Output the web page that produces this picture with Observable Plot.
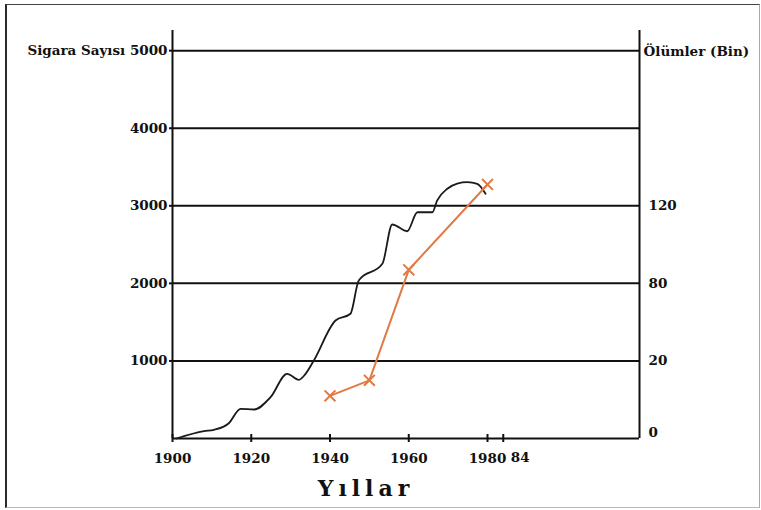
<!DOCTYPE html>
<html>
<head>
<meta charset="utf-8">
<script src="https://cdn.jsdelivr.net/npm/d3@7"></script>
<script src="https://cdn.jsdelivr.net/npm/@observablehq/plot@0.6"></script>
<style>
  html, body { margin: 0; padding: 0; background: #fff; }
  #wrap { position: relative; width: 761px; height: 510px; overflow: hidden; }
  #wrap svg { position: absolute; left: 0; top: 0; }
  #border { position: absolute; left: 5px; top: 4px; width: 752px; height: 502px;
            border-left: 2px solid #2a2a2a; border-top: 1.5px solid #444;
            border-right: 1.5px solid #aaa; border-bottom: 1.5px solid #bbb; pointer-events: none; }
</style>
</head>
<body>
<div id="wrap"><div id="border"></div></div>
<script>
// ---- data ----
const cigYears  = [1901, 1908, 1910.5, 1914.3, 1917.3, 1920.7, 1924.9, 1929.1, 1932.1, 1933.8, 1935.9, 1941.4, 1945.2, 1947.3, 1953.3, 1955.8, 1959.6, 1962.2, 1966.0, 1967.2, 1969.8, 1972.3, 1974.9, 1977.4, 1979.5];
const cigValues = [0,    94,   112,    197,    383,    374,    532,    834,    757,    834,    1006,   1521,   1608,   2037,   2252,   2759,   2672,   2917,   2917,   3068,   3219,   3287,   3304,   3283,   3155];

const deathYears  = [1940, 1950, 1960, 1980];
const deathValues = [11, 15, 87, 131];

const xDomain = [1900, 2018.6];
const xTicks = [1900, 1920, 1940, 1960, 1980];
const xTickLast = [1984];
const yDomain = [0, 5260];
const leftTicks = [1000, 2000, 3000, 4000, 5000];
const leftLevels  = [0, 1000, 2000, 3000];   // left-axis levels where the right ticks sit
const rightTicks  = [0, 20, 80, 120];        // right axis (Ölümler, Bin)

// right-axis (non-linear, as drawn) → left-axis units
const rightToLeft = d3.scaleLinear(rightTicks, leftLevels);

const cig = cigYears.map((y, i) => ({year: y, value: cigValues[i]}));
const deaths = deathYears.map((y, i) => ({year: y, value: deathValues[i]}));

const W = 761, H = 510;
const ink = "#111";
const orange = "#e07a44";

const p1 = Plot.plot({
  width: W, height: H,
  marginTop: 30, marginBottom: 72, marginLeft: 172, marginRight: 122,
  style: {fontFamily: "'DejaVu Serif', serif", fontWeight: "bold", fontSize: "13.5px", color: ink, background: "transparent"},
  x: {domain: xDomain},
  y: {domain: yDomain},
  marks: [
    Plot.ruleY(leftTicks, {stroke: ink, strokeWidth: 2}),
    Plot.ruleX(xDomain, {stroke: ink, strokeWidth: 2}),
    Plot.ruleY([0], {stroke: ink, strokeWidth: 2}),
    Plot.axisY(leftTicks, {tickSize: 3, tickPadding: 2, stroke: ink, strokeWidth: 2, label: null,
      tickFormat: d => d === 5000 ? "Sigara Sayısı 5000" : String(d)}),
    Plot.axisY(leftLevels.slice(1), {anchor: "right", tickSize: 0, tickPadding: 9, label: null,
      tickFormat: d => String(rightTicks[leftLevels.indexOf(d)])}),
    Plot.axisY(leftLevels.slice(0, 1), {anchor: "right", tickSize: 0, tickPadding: 9, dy: -6, label: null,
      tickFormat: d => String(rightTicks[leftLevels.indexOf(d)])}),
    Plot.axisX(xTicks, {tickSize: 4, tickPadding: 11, stroke: ink, strokeWidth: 2, label: null,
      tickFormat: d => String(d)}),
    Plot.axisX(xTickLast, {tickSize: 4, tickPadding: 11, stroke: ink, strokeWidth: 2, label: null, dx: 0,
      tickFormat: () => ""}),
    Plot.axisX(xTickLast, {tickSize: 0, tickPadding: 14, label: null, dx: 17, tickFormat: d => String(d).slice(2)}),
    Plot.axisX(xTicks.concat(xTickLast), {tickSize: -4, stroke: ink, strokeWidth: 2, label: null, tickFormat: () => ""}),
    Plot.line(cig, {x: "year", y: "value", stroke: "#1a1a1a", strokeWidth: 1.8, curve: "monotone-x"}),
    Plot.line(deaths, {x: "year", y: d => rightToLeft(d.value), stroke: orange, strokeWidth: 2}),
    Plot.dot(deaths, {x: "year", y: d => rightToLeft(d.value), symbol: "times", r: 5, stroke: orange, strokeWidth: 2}),
    Plot.text(["Ölümler (Bin)"], {frameAnchor: "top-right", dx: 4, dy: 16, textAnchor: "start", fill: ink}),
    Plot.text(["Yıllar"], {frameAnchor: "bottom", dx: -40, dy: 57, fontSize: 22, fill: ink})
  ]
});

d3.select(p1).selectAll("text").filter(function() { return this.textContent === "Yıllar"; })
  .attr("letter-spacing", "5px");

const wrap = document.getElementById("wrap");
wrap.insertBefore(p1, wrap.firstChild);
</script>
</body>
</html>
